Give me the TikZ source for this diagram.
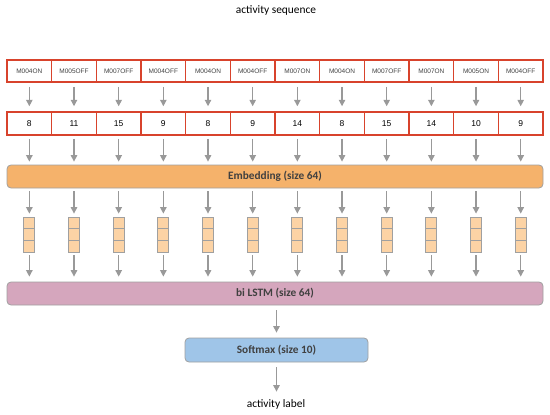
\documentclass[tikz,border=0pt]{standalone}
\usepackage{fontspec}
\setmainfont{Carlito}
\newfontfamily\arialf{Liberation Sans}
\usetikzlibrary{arrows.meta,calc}
\definecolor{redb}{HTML}{D8432C}
\definecolor{embf}{HTML}{F5B26B}
\definecolor{vecf}{HTML}{FCD3A5}
\definecolor{lstmf}{HTML}{D5A6BD}
\definecolor{softf}{HTML}{9FC5E8}
\definecolor{grayb}{HTML}{A0A0A0}
\definecolor{arrg}{HTML}{999999}
\definecolor{txt}{HTML}{404040}
\tikzset{
  sensbox/.style={draw=redb, line width=1.5pt, minimum width=44.67pt, minimum height=22pt, inner sep=0pt, font=\arialf\fontsize{6.5}{7}\selectfont, text=txt},
  numbox/.style={draw=redb, line width=1.5pt, minimum width=44.67pt, minimum height=23pt, inner sep=0pt, font=\arialf\fontsize{8.5}{9}\selectfont, text=black},
  bar/.style={draw=grayb, line width=0.8pt, rounded corners=4pt, minimum height=23pt, inner sep=0pt, font=\bfseries\fontsize{11.3}{13}\selectfont, text=txt},
  vecbox/.style={draw=grayb, fill=vecf, line width=0.8pt, minimum width=11pt, minimum height=35pt, inner sep=0pt},
  arr/.style={draw=arrg, line width=1.2pt, -{Triangle[width=6.5pt,length=6.5pt]}},
  lbl/.style={font=\fontsize{11.4}{13}\selectfont, text=black}
}
\begin{document}
\begin{tikzpicture}[x=1pt,y=-1pt]
\useasboundingbox (0,0) rectangle (550,415);
\node[lbl] (seq) at (276,10) {activity sequence};
\foreach \i/\s/\n in {1/M004ON/8,2/M005OFF/11,3/M007OFF/15,4/M004OFF/9,5/M004ON/8,6/M004OFF/9,7/M007ON/14,8/M004ON/8,9/M007OFF/15,10/M007ON/14,11/M005ON/10,12/M004OFF/9}{
  \pgfmathsetmacro{\cx}{7+44.67*(\i-0.5)}
  \node[sensbox] (s\i) at (\cx,71) {\s};
  \node[numbox] (n\i) at (\cx,123.5) {\n};
}
\node[bar, fill=embf, minimum width=536pt] (emb) at (275,176.5) {Embedding (size 64)};
\node[bar, fill=lstmf, minimum width=536pt] (lstm) at (275,293.5) {bi LSTM (size 64)};
\node[bar, fill=softf, minimum width=183pt, minimum height=24pt] (soft) at (276.5,350) {Softmax (size 10)};
\node[lbl] (lab) at (276,404) {activity label};
\foreach \i in {1,...,12}{
  \pgfmathsetmacro{\cx}{7+44.67*(\i-0.5)}
  \node[vecbox] (v\i) at (\cx,234.5) {};
  \draw[draw=grayb, line width=0.8pt] ($(v\i.north west)!1/3!(v\i.south west)$) -- ($(v\i.north east)!1/3!(v\i.south east)$);
  \draw[draw=grayb, line width=0.8pt] ($(v\i.north west)!2/3!(v\i.south west)$) -- ($(v\i.north east)!2/3!(v\i.south east)$);
  \draw[arr, shorten <=4pt, shorten >=5pt] (s\i.south) -- (n\i.north);
  \draw[arr, shorten <=3pt, shorten >=3pt] (n\i.south) -- (n\i.south |- emb.north);
  \draw[arr, shorten <=3pt, shorten >=3pt] (v\i.north |- emb.south) -- (v\i.north);
  \draw[arr, shorten <=3pt, shorten >=5pt] (v\i.south) -- (v\i.south |- lstm.north);
}
\draw[arr, shorten <=5pt, shorten >=5pt] (soft.north |- lstm.south) -- (soft.north);
\draw[arr, shorten <=5pt, shorten >=4pt] (soft.south) -- (soft.south |- lab.north);
\end{tikzpicture}
\end{document}
